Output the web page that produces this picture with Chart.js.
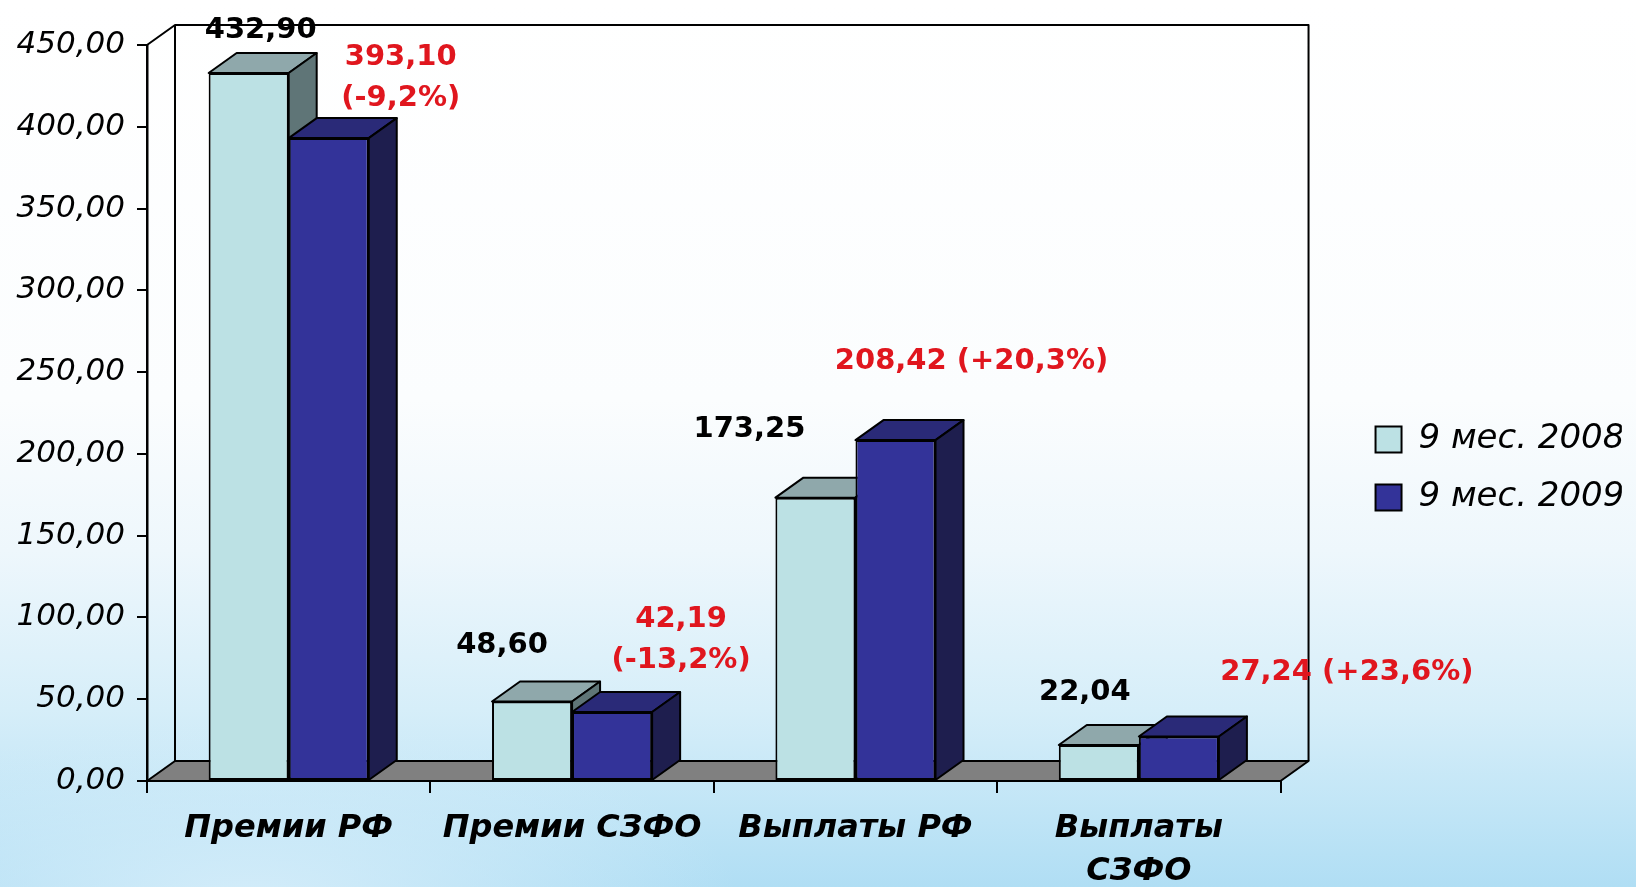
<!DOCTYPE html>
<html lang="ru">
<head>
<meta charset="utf-8">
<title>Премии и выплаты</title>
<script src="https://cdn.jsdelivr.net/npm/chart.js@4"></script>
<style>
    html, body { margin: 0; padding: 0; }
    body {
        width: 1636px; height: 887px; overflow: hidden;
        background:
            radial-gradient(ellipse 700px 260px at 250px 900px, rgba(215,238,250,0.9), rgba(215,238,250,0) 70%),
            linear-gradient(180deg, #ffffff 0%, #fbfdfe 45%, #eef7fc 62%, #d6eef9 80%, #b0def4 100%);
    }
    canvas { display: block; }
</style>
</head>
<body>
<canvas id="chart-premii" width="1636" height="887"></canvas>
<script>
// ----- Данные -----
const categories = ['Премии РФ', 'Премии СЗФО', 'Выплаты РФ', ['Выплаты', 'СЗФО']];
const seriesNames = ['9 мес. 2008', '9 мес. 2009'];
const values2008 = [432.90, 48.60, 173.25, 22.04];
const values2009 = [393.10, 42.19, 208.42, 27.24];
const change2009 = ['-9,2%', '-13,2%', '+20,3%', '+23,6%'];
const yTicks = [0, 50, 100, 150, 200, 250, 300, 350, 400, 450];

// ----- Оформление -----
const DX = 28, DY = 20;                  // глубина 3D
const frontColors = ['#bce1e4', '#333399'];
const topColors = ['#8fa8ab', '#2a2a78'];
const sideColors = ['#5f7577', '#1e1e4e'];
const labelColors = ['#000000', '#e0161e'];
const labelTwoLines = [[false, false, false, false], [true, true, false, false]];
// смещение подписи от центра верхней грани столбца
const labelOffsets = [
    [[12, -42], [-30, -56], [-66, -68], [-14, -52]],
    [[72, -60], [69, -72], [76, -79], [168, -64]]
];
const FONT = '"DejaVu Sans", Verdana, sans-serif';

const fmt = v => v.toFixed(2).replace('.', ',');

const box3d = {
    id: 'box3d',
    beforeDatasetsDraw(chart) {
        const { ctx, chartArea: a, scales: { y } } = chart;
        const y0 = y.getPixelForValue(0);
        const poly = (pts, fill) => {
            ctx.beginPath();
            ctx.moveTo(pts[0][0], pts[0][1]);
            for (let i = 1; i < pts.length; i++) ctx.lineTo(pts[i][0], pts[i][1]);
            ctx.closePath();
            if (fill) { ctx.fillStyle = fill; ctx.fill(); }
            ctx.stroke();
        };
        ctx.save();
        ctx.lineWidth = 2;
        ctx.strokeStyle = '#000';
        ctx.lineJoin = 'round';

        // задняя стенка
        ctx.beginPath();
        ctx.moveTo(a.left, a.top);
        ctx.lineTo(a.left + DX, a.top - DY);
        ctx.lineTo(a.right + DX, a.top - DY);
        ctx.lineTo(a.right + DX, y0 - DY);
        ctx.moveTo(a.left + DX, a.top - DY);
        ctx.lineTo(a.left + DX, y0 - DY);
        ctx.stroke();

        // пол
        poly([[a.left, y0], [a.right, y0], [a.right + DX, y0 - DY], [a.left + DX, y0 - DY]], '#808080');

        // верхние и боковые грани
        chart.data.datasets.forEach((ds, di) => {
            chart.getDatasetMeta(di).data.forEach(bar => {
                const p = bar.getProps(['x', 'y', 'base', 'width'], true);
                const l = p.x - p.width / 2, r = p.x + p.width / 2;
                poly([[l, p.y], [r, p.y], [r + DX, p.y - DY], [l + DX, p.y - DY]], topColors[di]);
                poly([[r, p.y], [r + DX, p.y - DY], [r + DX, p.base - DY], [r, p.base]], sideColors[di]);
            });
        });
        ctx.restore();
    },
    afterDatasetsDraw(chart) {
        const { ctx } = chart;
        ctx.save();
        ctx.font = 'bold 29px ' + FONT;
        ctx.textAlign = 'center';
        ctx.textBaseline = 'middle';
        chart.data.datasets.forEach((ds, di) => {
            chart.getDatasetMeta(di).data.forEach((bar, i) => {
                const p = bar.getProps(['x', 'y'], true);
                const cx = p.x + labelOffsets[di][i][0];
                const cy = p.y + labelOffsets[di][i][1];
                const val = fmt(ds.data[i]);
                let lines = [val];
                if (di === 1) {
                    const pct = '(' + change2009[i] + ')';
                    lines = labelTwoLines[di][i] ? [val, pct] : [val + ' ' + pct];
                }
                ctx.fillStyle = labelColors[di];
                const lh = 41;
                lines.forEach((t, k) => {
                    ctx.fillText(t, cx, cy + (k - (lines.length - 1) / 2) * lh);
                });
            });
        });
        ctx.restore();
    }
};

// легенда: ширина по тексту, чтобы левый край квадратика был там, где нужно
const legendFont = { family: FONT, size: 34, style: 'italic' };
const legendPad = 24, legendBox = 26;
const plotRight = 1280, legendGap = 71;
const measureCtx = document.createElement('canvas').getContext('2d');
measureCtx.font = 'italic 34px ' + FONT;
const legendTextW = Math.max(...seriesNames.map(n => measureCtx.measureText(n).width));
const legendW = legendPad + legendBox + legendFont.size / 2 + legendTextW;
const padRight = Math.max(0, 1636 - plotRight - legendGap - legendW + 2);

const chart = new Chart(document.getElementById('chart-premii').getContext('2d'), {
    type: 'bar',
    data: {
        labels: categories,
        datasets: [
            { label: seriesNames[0], data: values2008, backgroundColor: frontColors[0], borderColor: '#000', borderWidth: 2, borderSkipped: false },
            { label: seriesNames[1], data: values2009, backgroundColor: frontColors[1], borderColor: '#000', borderWidth: 2, borderSkipped: false }
        ]
    },
    options: {
        responsive: false,
        animation: false,
        categoryPercentage: 0.565,
        barPercentage: 1.0,
        layout: { padding: { top: 45, right: padRight, bottom: 0, left: 0 } },
        scales: {
            x: {
                offset: true,
                grid: { display: true, offset: true, drawOnChartArea: false, drawTicks: true, tickLength: 12, color: '#000', lineWidth: 2 },
                border: { display: true, color: '#000', width: 2 },
                ticks: {
                    color: '#000', padding: 14, maxRotation: 0, autoSkip: false,
                    font: { family: FONT, size: 32, style: 'italic', weight: 'bold', lineHeight: 1.35 }
                },
                afterFit: s => { s.height = 106; }
            },
            y: {
                min: 0, max: 450,
                afterBuildTicks: s => { s.ticks = yTicks.map(v => ({ value: v })); },
                grid: { display: true, drawOnChartArea: false, drawTicks: true, tickLength: 10, color: '#000', lineWidth: 2 },
                border: { display: true, color: '#000', width: 2.5 },
                ticks: {
                    color: '#000', padding: 12,
                    font: { family: FONT, size: 31, style: 'italic' },
                    callback: v => fmt(v)
                },
                afterFit: s => { s.width = 147; }
            },
            gap: {
                position: 'right',
                grid: { display: false },
                border: { display: false },
                ticks: { display: false },
                afterFit: s => { s.width = legendGap; }
            }
        },
        plugins: {
            tooltip: { enabled: false },
            legend: {
                position: 'right',
                align: 'center',
                title: { display: true, text: ' ', font: { size: 4 }, padding: 0 },
                labels: {
                    color: '#000',
                    font: legendFont,
                    boxWidth: legendBox,
                    boxHeight: legendBox,
                    padding: legendPad
                }
            }
        }
    },
    plugins: [box3d]
});
</script>
</body>
</html>
